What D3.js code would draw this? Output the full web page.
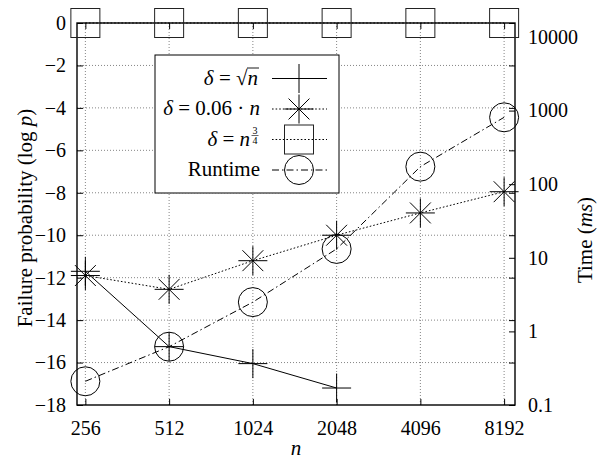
<!DOCTYPE html>
<html>
<head>
<meta charset="utf-8">
<script src="https://cdn.jsdelivr.net/npm/d3@7"></script>
</head>
<body style="margin:0;background:#fff">
<svg id="chart" width="597" height="466" font-family="Liberation Serif" style="display:block"></svg>
<script>
// ---- data ----
const ns = [256, 512, 1024, 2048, 4096, 8192];
const xTickLabels = ["256", "512", "1024", "2048", "4096", "8192"];
const sqrtN = [-11.7, -15.25, -16.05, -17.2];            // δ = √n (only up to 2048)
const linN = [-11.9, -12.55, -11.2, -10.0, -8.95, -7.95]; // δ = 0.06·n
const pow34 = [0, 0, 0, 0, 0, 0];                         // δ = n^(3/4)
const runtime = [0.21, 0.62, 2.5, 13.2, 173, 810];        // ms
const leftTicks = [0, -2, -4, -6, -8, -10, -12, -14, -16, -18];
const rightTicks = [0.1, 1, 10, 100, 1000, 10000];
const rightTickLabels = ["0.1", "1", "10", "100", "1000", "10000"];

// ---- layout ----
const L = 77, R = 515, T = 23, B = 405;
const FS = 20;
const FONT = "Liberation Serif";
const svg = d3.select("#chart");

const x = d3.scaleLog().base(2).domain([Math.pow(2, 7.9), Math.pow(2, 13.13)]).range([L, R]);
const yL = d3.scaleLinear().domain([-18, 0]).range([B, T]);
const yR = d3.scaleLog().domain([0.1, Math.pow(10, 4.19)]).range([B, T]);

// grid
const grid = svg.append("g").attr("stroke", "#666").attr("stroke-width", 0.8)
  .attr("stroke-dasharray", "1,2").attr("fill", "none");
leftTicks.filter(v => v !== 0 && v !== -18).forEach(v => {
  grid.append("line").attr("x1", L).attr("x2", R).attr("y1", yL(v)).attr("y2", yL(v));
});
ns.forEach(n => {
  grid.append("line").attr("x1", x(n)).attr("x2", x(n)).attr("y1", T).attr("y2", B);
});

// axes
const fmtL = d => d === 0 ? "0" : "\u2212" + Math.abs(d);
const axL = svg.append("g").attr("transform", `translate(${L},0)`)
  .call(d3.axisLeft(yL).tickValues(leftTicks).tickFormat(fmtL).tickSize(-6).tickPadding(11));
const axLm = svg.append("g").attr("transform", `translate(${R},0)`)
  .call(d3.axisRight(yL).tickValues(leftTicks).tickFormat("").tickSize(-6));
const axR = svg.append("g").attr("transform", `translate(${R},0)`)
  .call(d3.axisRight(yR).tickValues(rightTicks).tickFormat((d, i) => rightTickLabels[i]).tickSize(-6).tickPadding(13));
const axB = svg.append("g").attr("transform", `translate(0,${B})`)
  .call(d3.axisBottom(x).tickValues(ns).tickFormat((d, i) => xTickLabels[i]).tickSize(-6).tickPadding(16));
const axT = svg.append("g").attr("transform", `translate(0,${T})`)
  .call(d3.axisTop(x).tickValues(ns).tickFormat("").tickSize(-6));
[axL, axLm, axR, axB, axT].forEach(g => {
  g.attr("font-family", FONT).attr("font-size", FS);
  g.select(".domain").remove();
  g.selectAll(".tick line").attr("stroke", "#000").attr("stroke-width", 1);
  g.selectAll("text").attr("font-family", FONT).attr("font-size", FS).attr("fill", "#000");
});

// frame
svg.append("rect").attr("x", L).attr("y", T).attr("width", R - L).attr("height", B - T)
  .attr("fill", "none").attr("stroke", "#000").attr("stroke-width", 1.4);

// markers
const M = 14.5;
function plus(g, cx, cy) {
  g.append("path").attr("d", `M${cx - M},${cy}H${cx + M}M${cx},${cy - M}V${cy + M}`)
    .attr("stroke", "#000").attr("stroke-width", 1).attr("fill", "none");
}
function star(g, cx, cy) {
  const d = M * 0.72;
  g.append("path").attr("d",
    `M${cx - M},${cy}H${cx + M}M${cx},${cy - M}V${cy + M}M${cx - d},${cy - d}L${cx + d},${cy + d}M${cx - d},${cy + d}L${cx + d},${cy - d}`)
    .attr("stroke", "#000").attr("stroke-width", 1).attr("fill", "none");
}
function square(g, cx, cy) {
  g.append("rect").attr("x", cx - M).attr("y", cy - M).attr("width", 2 * M).attr("height", 2 * M)
    .attr("stroke", "#222").attr("stroke-width", 1).attr("fill", "none");
}
function circle(g, cx, cy) {
  g.append("circle").attr("cx", cx).attr("cy", cy).attr("r", M)
    .attr("stroke", "#000").attr("stroke-width", 1).attr("fill", "none");
}

const plot = svg.append("g");
const styles = {
  solid: null,
  dotted: "1.6,2",
  dashdot: "7,3,1.5,3"
};
function series(vals, yScale, dash, marker) {
  const pts = vals.map((v, i) => [x(ns[i]), yScale(v)]);
  plot.append("path").attr("d", d3.line()(pts)).attr("fill", "none")
    .attr("stroke", "#000").attr("stroke-width", 1)
    .attr("stroke-dasharray", dash);
  pts.forEach(p => marker(plot, p[0], p[1]));
}
series(sqrtN, yL, styles.solid, plus);
series(linN, yL, styles.dotted, star);
series(pow34, yL, styles.dotted, square);
series(runtime, yR, styles.dashdot, circle);

// legend
const LFS = 21;
const lg = svg.append("g");
lg.append("rect").attr("x", 155).attr("y", 55).attr("width", 184).attr("height", 138)
  .attr("fill", "#fff").attr("stroke", "#000").attr("stroke-width", 1);
const rows = [78.5, 109, 139.5, 170];
const sx1 = 272, sx2 = 327, mx = 299, tx = 260;
const legendDefs = [
  { dash: styles.solid, marker: plus },
  { dash: styles.dotted, marker: star },
  { dash: styles.dotted, marker: square },
  { dash: styles.dashdot, marker: circle }
];
legendDefs.forEach((d, i) => {
  lg.append("line").attr("x1", sx1).attr("x2", sx2).attr("y1", rows[i]).attr("y2", rows[i])
    .attr("stroke", "#000").attr("stroke-width", 1).attr("stroke-dasharray", d.dash);
});
legendDefs.forEach((d, i) => d.marker(lg, mx, rows[i]));

function txt(g, size) {
  return g.append("text").attr("font-family", FONT).attr("font-size", size || FS).attr("fill", "#000");
}
function ltext(i, xx) {
  return txt(lg, LFS).attr("x", xx || tx).attr("y", rows[i] + 6).attr("text-anchor", "end");
}
// row 1: δ = √n
{
  const t = ltext(0, 258);
  t.append("tspan").attr("font-style", "italic").text("δ");
  t.append("tspan").text(" = √");
  t.append("tspan").attr("font-style", "italic").text("n");
  lg.append("line").attr("x1", 247).attr("x2", 259).attr("y1", rows[0] - 10.5).attr("y2", rows[0] - 10.5)
    .attr("stroke", "#000").attr("stroke-width", 0.9);
}
// row 2: δ = 0.06 · n
{
  const t = ltext(1);
  t.append("tspan").attr("font-style", "italic").text("δ");
  t.append("tspan").text(" = 0.06 · ");
  t.append("tspan").attr("font-style", "italic").text("n");
}
// row 3: δ = n^(3/4)
{
  const t = ltext(2, 250);
  t.append("tspan").attr("font-style", "italic").text("δ");
  t.append("tspan").text(" = ");
  t.append("tspan").attr("font-style", "italic").text("n");
  txt(lg, 10).attr("x", 255).attr("y", rows[2] - 6).attr("text-anchor", "middle").text("3");
  lg.append("line").attr("x1", 251.5).attr("x2", 258.5).attr("y1", rows[2] - 4).attr("y2", rows[2] - 4)
    .attr("stroke", "#000").attr("stroke-width", 0.6);
  txt(lg, 10).attr("x", 255).attr("y", rows[2] + 4).attr("text-anchor", "middle").text("4");
}
// row 4: Runtime
ltext(3).text("Runtime");

// axis titles
{
  const t = txt(svg, 21).attr("transform", "translate(32,218) rotate(-90)").attr("text-anchor", "middle");
  t.append("tspan").text("Failure probability (log ");
  t.append("tspan").attr("font-style", "italic").text("p");
  t.append("tspan").text(")");
}
{
  const t = txt(svg, 21).attr("transform", "translate(592,240) rotate(-90)").attr("text-anchor", "middle");
  t.append("tspan").text("Time (");
  t.append("tspan").attr("font-style", "italic").text("ms");
  t.append("tspan").text(")");
}
txt(svg, 21).attr("x", 296).attr("y", 455).attr("text-anchor", "middle")
  .attr("font-style", "italic").text("n");
</script>
</body>
</html>
